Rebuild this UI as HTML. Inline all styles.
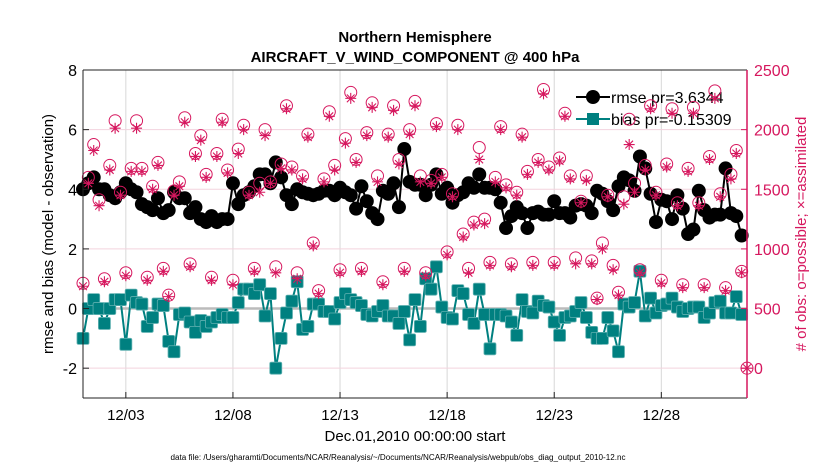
<!DOCTYPE html>
<html><head><meta charset="utf-8"><style>
html,body{margin:0;padding:0;background:#fff;}
svg{display:block;font-family:"Liberation Sans",sans-serif;}
</style></head><body>
<svg id="chart" width="830" height="470" viewBox="0 0 830 470">
<rect width="830" height="470" fill="#fff"/>
<g id="grid"></g>
<line id="zero" stroke="#bbbbbb" stroke-width="2.5"/>
<g id="series"></g>
<g id="legend">
 <line x1="576" y1="97" x2="610" y2="97" stroke="#000" stroke-width="2"/>
 <circle cx="593" cy="97" r="7" fill="#000"/>
 <text x="611" y="103" font-size="16">rmse pr=3.6344</text>
 <line x1="576" y1="119" x2="610" y2="119" stroke="#008080" stroke-width="2"/>
 <rect x="587" y="113" width="12" height="12" fill="#008080"/>
 <text x="611" y="125" font-size="16">bias pr=-0.15309</text>
</g>
<g id="obs"></g>
<g id="axes"></g>
<text x="415" y="42" font-size="15" font-weight="bold" text-anchor="middle">Northern Hemisphere</text>
<text x="415" y="62" font-size="15" font-weight="bold" text-anchor="middle">AIRCRAFT_V_WIND_COMPONENT @ 400 hPa</text>
<text x="415" y="441" font-size="15" text-anchor="middle">Dec.01,2010 00:00:00 start</text>
<text x="398" y="460" font-size="8" text-anchor="middle" textLength="455" lengthAdjust="spacingAndGlyphs">data file: /Users/gharamti/Documents/NCAR/Reanalysis/~/Documents/NCAR/Reanalysis/webpub/obs_diag_output_2010-12.nc</text>
<text transform="translate(53,234) rotate(-90)" font-size="15" text-anchor="middle">rmse and bias (model - observation)</text>
<text transform="translate(806,234) rotate(-90)" font-size="15" fill="#d6175e" text-anchor="middle"># of obs: o=possible; ×=assimilated</text>
</svg>
<script>
const xTickLabels = ["12/03","12/08","12/13","12/18","12/23","12/28"];
const xTickDays = [2,7,12,17,22,27];
const yTicks = [-2,0,2,4,6,8];
const y2Ticks = [0,500,1000,1500,2000,2500];
const rmse = [4.0,4.2,4.4,4.0,4.0,3.8,3.7,3.9,4.2,4.0,3.9,3.5,3.4,3.3,3.7,3.2,3.3,3.9,3.7,3.7,3.2,3.4,3.0,2.9,3.1,2.9,3.0,3.0,4.2,3.5,3.8,3.9,4.1,4.5,4.5,4.2,4.9,4.4,3.8,3.5,4.0,3.9,3.85,
3.8,3.85,3.95,3.95,3.8,4.05,3.9,3.8,3.35,4.1,3.6,3.2,3.0,3.95,3.85,4.2,3.4,5.35,4.25,4.15,4.15,3.8,4.15,4.5,3.85,4.05,3.55,3.8,3.9,4.2,4.05,4.5,4.05,4.05,4.0,3.55,2.7,3.1,3.4,3.2,2.7,
3.2,3.25,3.15,3.15,3.6,3.2,3.2,3.05,3.45,3.5,3.45,3.2,3.95,3.85,3.6,3.3,4.1,4.4,4.3,3.95,5.1,4.7,3.85,2.9,3.65,3.6,3.0,3.8,3.35,2.5,2.65,3.95,3.3,3.05,3.15,3.15,4.7,3.2,3.1,2.45];
const bias = [-1.0,0,0.3,0,-0.5,0,0.3,0.3,-1.2,0.45,0.2,0.15,-0.6,-0.3,0.15,0.1,-1.1,-1.45,-0.2,-0.15,-0.45,-0.8,-0.4,-0.6,-0.45,-0.3,-0.2,-0.3,-0.3,0.2,0.65,0.65,0.5,0.8,-0.25,0.5,-2.0,-1.0,-0.15,0.25,0.9,-0.7,-0.6,
0.15,0.15,-0.1,-0.1,-0.35,0.2,0.5,0.3,0.2,0.1,-0.2,-0.25,-0.1,0.1,-0.25,-0.25,-0.5,-0.1,-1.05,0.3,-0.6,1.0,0.65,1.4,0.05,-0.3,-0.35,0.6,0.5,-0.2,-0.5,0.65,-0.2,-1.35,-0.2,-0.2,-0.25,-0.45,-0.9,0.3,-0.1,
-0.15,0.25,0.1,0.05,-0.45,-0.9,-0.3,-0.25,-0.1,0.2,-0.3,-0.8,-1.0,-1.0,-0.3,-0.75,-1.45,0.15,0.05,0.2,1.25,-0.25,0.35,-0.15,0.1,0.15,0.35,0.05,-0.1,0,0.05,0.05,-0.3,-0.15,0.2,0.25,-0.15,-0.15,0.4,-0.2];
const possible = [712,1600,1875,1412,750,1700,2075,1475,800,1675,2075,1675,762,1525,1725,837,612,1487,1562,2100,875,1800,1950,1625,762,1800,2087,1662,737,1837,2037,1475,837,1550,2000,1562,850,1712,2200,1687,800,1612,1962,
1050,650,1587,2150,1700,825,1925,2312,1750,837,1975,2225,1612,725,1962,2200,1750,837,2000,2237,1612,800,1575,2050,1625,975,1462,2037,1125,837,1225,1850,1250,887,1600,2025,1537,875,1475,1962,1650,
887,1750,2337,1687,887,1762,2137,1612,925,1400,1612,900,587,1050,1450,862,637,1437,2087,1550,825,1700,2200,1475,737,1712,2175,1387,700,1675,2187,1387,700,1775,2325,1462,675,1625,1825,812,0];
const assimilated = [687,1550,1825,1362,725,1662,2012,1450,775,1650,2012,1650,737,1500,1700,812,600,1450,1525,2062,850,1775,1912,1600,737,1775,2062,1637,700,1800,2000,1450,812,1475,1950,1550,800,1675,2175,1662,750,1587,1937,
1025,625,1562,2112,1662,800,1887,2262,1725,812,1950,2187,1562,700,1937,2162,1712,812,1962,2200,1562,775,1550,2025,1600,950,1437,2000,1100,800,1200,1750,1212,862,1562,2000,1512,850,1450,1937,1625,
862,1725,2300,1662,862,1737,2112,1587,875,1387,1575,875,575,1000,1437,825,612,1375,1875,1475,800,1662,2175,1450,712,1687,2137,1362,675,1650,2137,1362,675,1750,2262,1437,650,1587,1800,800,0];

const X0=83,X1=747,Y0=70,Y1=398;
const NS='http://www.w3.org/2000/svg';
function sx(day){return X0+(day/31)*(X1-X0);}
function sy(v){return Y1-(v+3)/11*(Y1-Y0);}
function sy2(c){return Y1-(c+250)/2750*(Y1-Y0);}
function mk(tag,attrs,parent){const e=document.createElementNS(NS,tag);for(const k in attrs)e.setAttribute(k,attrs[k]);parent.appendChild(e);return e;}
const grid=document.getElementById('grid'),axes=document.getElementById('axes'),ser=document.getElementById('series'),obs=document.getElementById('obs');
xTickDays.forEach((d,i)=>{
  const g=mk('line',{x1:sx(d),x2:sx(d),y1:Y0,y2:Y1,stroke:'#d8d8d8','stroke-width':1},grid);
  
  
  mk('line',{x1:sx(d),x2:sx(d),y1:Y1,y2:Y1-6,stroke:'#222'},axes);
  const tx=mk('text',{x:sx(d),y:420,'font-size':15,'text-anchor':'middle'},axes);
  tx.textContent=xTickLabels[i];
  
  
});
yTicks.forEach(v=>{
  const g=mk('line',{x1:X0,x2:X1,y1:sy(v),y2:sy(v),stroke:'#f3d3de','stroke-width':1},grid);
  
  
  mk('line',{x1:X0,x2:X0+6,y1:sy(v),y2:sy(v),stroke:'#222'},axes);
  const tx=mk('text',{x:77,y:sy(v)+6,'font-size':16,'text-anchor':'end'},axes);
  tx.textContent=v;
  
  
});
y2Ticks.forEach(c=>{
  mk('line',{x1:X1,x2:X1-6,y1:sy2(c),y2:sy2(c),stroke:'#d6175e'},axes);
  const tx=mk('text',{x:754,y:sy2(c)+6,'font-size':16,fill:'#d6175e'},axes);
  tx.textContent=c;
  
  
});
mk('line',{x1:X0,x2:X1,y1:Y0,y2:Y0,stroke:'#222'},axes);
mk('line',{x1:X0,x2:X1,y1:Y1,y2:Y1,stroke:'#222'},axes);
mk('line',{x1:X0,x2:X0,y1:Y0,y2:Y1,stroke:'#222'},axes);
mk('line',{x1:X1,x2:X1,y1:Y0,y2:Y1,stroke:'#d6175e','stroke-width':1.5},axes);
const z=document.getElementById('zero');
z.setAttribute('x1',X0);z.setAttribute('x2',X1);z.setAttribute('y1',sy(0));z.setAttribute('y2',sy(0));

const rp=rmse.map((v,i)=>sx(i*0.25)+','+sy(v)).join(' ');
const rl=mk('polyline',{points:rp,fill:'none',stroke:'#000','stroke-width':2},ser);


rmse.forEach((v,i)=>{
  const c=mk('circle',{cx:sx(i*0.25),cy:sy(v),r:7,fill:'#000'},ser);
  
  
});
const bp=bias.map((v,i)=>sx(i*0.25)+','+sy(v)).join(' ');
const bl=mk('polyline',{points:bp,fill:'none',stroke:'#008080','stroke-width':2},ser);


bias.forEach((v,i)=>{
  const r=mk('rect',{x:sx(i*0.25)-6,y:sy(v)-6,width:12,height:12,rx:1.5,fill:'#008080',stroke:'#5fb0b0','stroke-width':0.8},ser);
  
  
});
const OC='#d6175e';
possible.forEach((c,i)=>{
  const e=mk('circle',{cx:sx(i*0.25),cy:sy2(c),r:6,fill:'none',stroke:OC,'stroke-width':1},obs);
  
  
});
assimilated.forEach((c,i)=>{
  const x=sx(i*0.25),y=sy2(c),s=5.5;
  const d=`M${x-s},${y}H${x+s}M${x},${y-s}V${y+s}M${x-s*0.7},${y-s*0.7}L${x+s*0.7},${y+s*0.7}M${x-s*0.7},${y+s*0.7}L${x+s*0.7},${y-s*0.7}`;
  const e=mk('path',{d:d,stroke:OC,'stroke-width':1.1,fill:'none'},obs);
  
  
});
</script>
</body></html>
